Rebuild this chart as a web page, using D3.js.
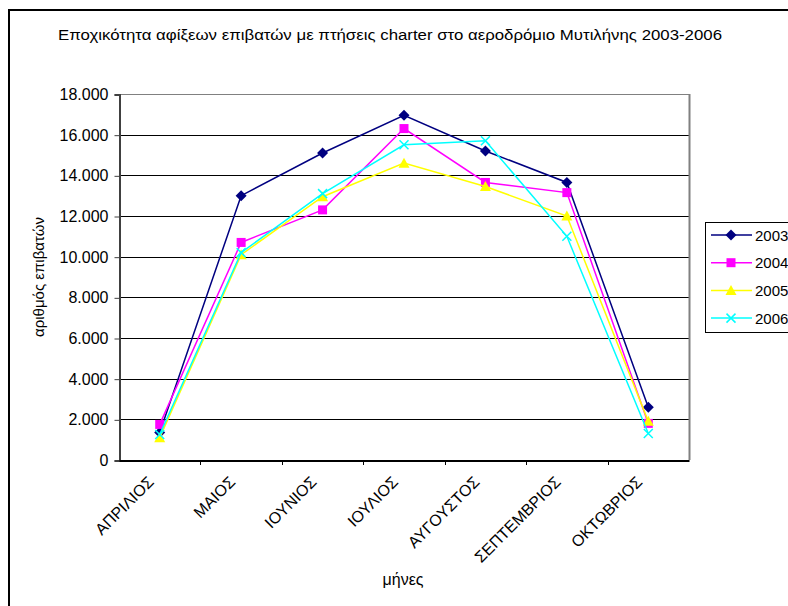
<!DOCTYPE html>
<html><head><meta charset="utf-8">
<script src="https://cdn.jsdelivr.net/npm/d3@7/dist/d3.min.js"></script>
<style>body{margin:0;background:#fff}svg{display:block;font-family:"Liberation Sans",Arial,sans-serif}</style>
</head><body><svg id="c" width="788" height="606"></svg>
<script>
const months = ["ΑΠΡΙΛΙΟΣ","ΜΑΙΟΣ","ΙΟΥΝΙΟΣ","ΙΟΥΛΙΟΣ","ΑΥΓΟΥΣΤΟΣ","ΣΕΠΤΕΜΒΡΙΟΣ","ΟΚΤΩΒΡΙΟΣ"];
const v2003 = [1350,13000,15100,16950,15200,13650,2600];
const v2004 = [1750,10700,12300,16300,13650,13150,1800];
const v2005 = [1100,10100,12950,14600,13450,12000,1900];
const v2006 = [1250,10200,13100,15500,15700,11000,1300];
const yTicks = [0,2000,4000,6000,8000,10000,12000,14000,16000,18000];
const seriesNames = ["2003","2004","2005","2006"];
const seriesValues = [v2003,v2004,v2005,v2006];
const colors = ["#000080","#FF00FF","#FFFF00","#00FFFF"];
const shapes = ["diamond","square","triangle","x"];
const title = "Εποχικότητα αφίξεων επιβατών με πτήσεις charter στο αεροδρόμιο Μυτιλήνης 2003-2006";

const svg = d3.select("#c");
svg.append("path").attr("d","M9,606 V10 H790").attr("fill","none").attr("stroke","#000").attr("stroke-width",2);

const L=119, R=689, T=94, B=460;
const x = d3.scaleBand().domain(months).range([L,R]);
const y = d3.scaleLinear().domain([0,18000]).range([B,T]);

svg.append("text").attr("x",390).attr("y",40).attr("text-anchor","middle")
  .attr("font-size",14).attr("textLength",664).attr("lengthAdjust","spacingAndGlyphs").text(title);

svg.append("g").selectAll("line").data(yTicks.filter(d=>d>0)).join("line")
  .attr("x1",L).attr("x2",R).attr("y1",d=>Math.round(y(d))+0.5).attr("y2",d=>Math.round(y(d))+0.5)
  .attr("stroke",d=>d===18000?"#808080":"#000").attr("stroke-width",1);
svg.append("line").attr("x1",R+0.5).attr("x2",R+0.5).attr("y1",T).attr("y2",B).attr("stroke","#808080").attr("stroke-width",2);

const yAxis = d3.axisLeft(y).tickValues(yTicks).tickSize(5).tickPadding(6)
  .tickFormat(d=>d===0?"0":d3.format(",")(d).replace(/,/g,"."));
const gy = svg.append("g").attr("transform",`translate(${L+0.5},0.5)`).call(yAxis);
gy.select(".domain").attr("stroke","#404040").attr("stroke-width",2);
gy.selectAll(".tick line").attr("stroke","#404040");
gy.selectAll("text").attr("font-size",16).attr("font-family","Liberation Sans, Arial, sans-serif").attr("fill","#000");

const xAxis = d3.axisBottom(x).tickSize(0).tickFormat("");
const gx = svg.append("g").attr("transform",`translate(0,${B+0.5})`).call(xAxis);
gx.select(".domain").attr("stroke","#000").attr("stroke-width",2);
svg.append("g").selectAll("line").data(months.slice(1)).join("line")
  .attr("x1",d=>Math.round(x(d))+0.5).attr("x2",d=>Math.round(x(d))+0.5)
  .attr("y1",B).attr("y2",B+5).attr("stroke","#000");
svg.append("g").selectAll("text").data(months).join("text")
  .attr("transform",d=>`translate(${x(d)+x.bandwidth()/2-5},${B+23}) rotate(-45)`)
  .attr("text-anchor","end").attr("font-size",16).text(d=>d);

svg.append("text").attr("x",403).attr("y",585).attr("text-anchor","middle").attr("font-size",16).text("μήνες");
svg.append("text").attr("transform",`translate(44,${(T+B)/2}) rotate(-90)`).attr("text-anchor","middle")
  .attr("font-size",15).text("αριθμός επιβατών");

function marker(g, shape, color, cx, cy){
  if(shape==="diamond") g.append("path").attr("d",`M${cx},${cy-5.5}L${cx+5.5},${cy}L${cx},${cy+5.5}L${cx-5.5},${cy}Z`).attr("fill",color);
  else if(shape==="square") g.append("rect").attr("x",cx-4.5).attr("y",cy-4.5).attr("width",9).attr("height",9).attr("fill",color);
  else if(shape==="triangle") g.append("path").attr("d",`M${cx},${cy-5.5}L${cx+5.5},${cy+4.5}L${cx-5.5},${cy+4.5}Z`).attr("fill",color);
  else g.append("path").attr("d",`M${cx-4.5},${cy-4.5}L${cx+4.5},${cy+4.5}M${cx-4.5},${cy+4.5}L${cx+4.5},${cy-4.5}`).attr("stroke",color).attr("stroke-width",1.5);
}

const line = d3.line().x((d,i)=>x(months[i])+x.bandwidth()/2).y(d=>y(d));
seriesValues.forEach((vals,si)=>{
  const g = svg.append("g");
  g.append("path").attr("d",line(vals)).attr("fill","none").attr("stroke",colors[si]).attr("stroke-width",1.5);
  vals.forEach((v,i)=>marker(g,shapes[si],colors[si],x(months[i])+x.bandwidth()/2,y(v)));
});

const lg = svg.append("g");
lg.append("rect").attr("x",705.5).attr("y",222.5).attr("width",100).attr("height",110).attr("fill","#fff").attr("stroke","#000");
seriesNames.forEach((n,i)=>{
  const yy = 235 + i*27.7;
  lg.append("line").attr("x1",711).attr("x2",752).attr("y1",yy).attr("y2",yy).attr("stroke",colors[i]).attr("stroke-width",1.5);
  marker(lg,shapes[i],colors[i],731,yy);
  lg.append("text").attr("x",755).attr("y",yy+5.5).attr("font-size",15).text(n);
});
</script></body></html>
